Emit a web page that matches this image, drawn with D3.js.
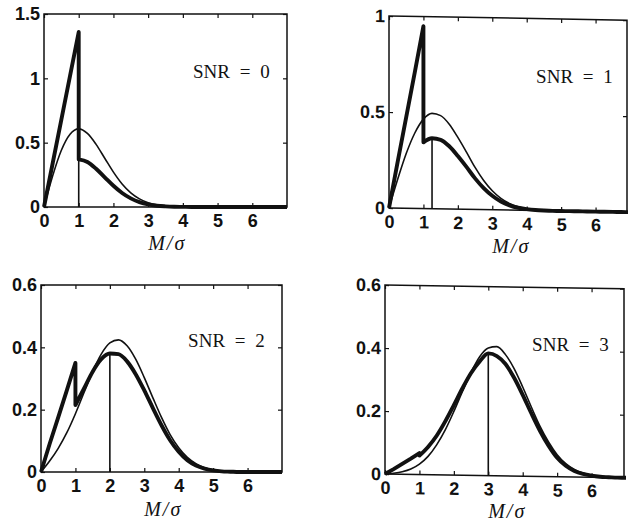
<!DOCTYPE html>
<html>
<head>
<meta charset="utf-8">
<script src="https://cdn.jsdelivr.net/npm/d3@7"></script>
<style>
  body { margin: 0; background: #fff; }
  .tick text { font-family: "Liberation Sans", Arial, sans-serif; font-weight: bold; font-size: 18px; fill: #111; }
  .tick line { stroke: #111; stroke-width: 1.2; }
</style>
</head>
<body>
<div id="chart"></div>
<script>
// ---------- data ----------
const snrLabels = ["SNR = 0", "SNR = 1", "SNR = 2", "SNR = 3"];
const yTopValues = [1.5, 1, 0.6, 0.6];
const yTickValues = [[0, 0.5, 1, 1.5], [0, 0.5, 1], [0, 0.2, 0.4, 0.6], [0, 0.2, 0.4, 0.6]];
const yTickLabels = [["0", "0.5", "1", "1.5"], ["0", "0.5", "1"], ["0", "0.2", "0.4", "0.6"], ["0", "0.2", "0.4", "0.6"]];
const xTicks = [0, 1, 2, 3, 4, 5, 6];
const markerM = [1, 1.25, 2, 3];

// M grid for the thin curves (0..7)
const gridM = [0, 0.25, 0.5, 0.75, 1, 1.25, 1.5, 1.75, 2, 2.25, 2.5, 2.75, 3, 3.25, 3.5,
  3.75, 4, 4.25, 4.5, 4.75, 5, 5.25, 5.5, 5.75, 6, 6.25, 6.5, 6.75, 7];
// M grids for the thick curves, split at the jump at M = 1
const gridLeft = [0, 0.25, 0.5, 0.75, 1];
const gridRight = [1, 1.25, 1.5, 1.75, 2, 2.25, 2.5, 2.75, 3, 3.25, 3.5, 3.75, 4, 4.25,
  4.5, 4.75, 5, 5.25, 5.5, 5.75, 6, 6.25, 6.5, 6.75, 7];

// thin curves
const thinSnr0 = [0, 0.242, 0.441, 0.566, 0.607, 0.572, 0.487, 0.379, 0.271, 0.179, 0.110, 0.063,
  0.033, 0.017, 0.008, 0.003, 0.001, 0, 0, 0, 0, 0, 0, 0, 0, 0, 0, 0, 0];
const thinSnr1 = [0, 0.149, 0.285, 0.393, 0.466, 0.497, 0.486, 0.442, 0.374, 0.298, 0.219, 0.152,
  0.099, 0.060, 0.034, 0.018, 0.009, 0.004, 0.002, 0.001, 0, 0, 0, 0, 0, 0, 0, 0, 0];
const thinSnr2 = [0, 0.035, 0.076, 0.126, 0.187, 0.255, 0.322, 0.378, 0.414, 0.424, 0.405, 0.362,
  0.303, 0.238, 0.175, 0.120, 0.078, 0.047, 0.027, 0.014, 0.007, 0.003, 0.0015, 0.0006, 0.0002, 0, 0, 0, 0];
const thinSnr3 = [0, 0.003, 0.008, 0.017, 0.033, 0.058, 0.095, 0.143, 0.202, 0.266, 0.327, 0.377,
  0.405, 0.41, 0.385, 0.341, 0.283, 0.220, 0.160, 0.110, 0.070, 0.042, 0.024, 0.013, 0.006, 0.003, 0.0013, 0.0005, 0.0002];

// thick curves, left of the jump
const thickLeftSnr0 = [0, 0.34, 0.68, 1.02, 1.36];
const thickLeftSnr1 = [0, 0.24, 0.475, 0.71, 0.95];
const thickLeftSnr2 = [0, 0.09, 0.175, 0.262, 0.35];
const thickLeftSnr3 = [0, 0.016, 0.033, 0.05, 0.068];

// thick curves, right of the jump
const thickRightSnr0 = [0.37, 0.35, 0.297, 0.231, 0.165, 0.109, 0.067, 0.038, 0.020, 0.010, 0.005,
  0.002, 0.001, 0, 0, 0, 0, 0, 0, 0, 0, 0, 0, 0, 0];
const thickRightSnr1 = [0.345, 0.367, 0.36, 0.327, 0.277, 0.221, 0.162, 0.112, 0.073, 0.044, 0.025,
  0.013, 0.007, 0.003, 0.001, 0, 0, 0, 0, 0, 0, 0, 0, 0, 0];
const thickRightSnr2 = [0.215, 0.268, 0.322, 0.362, 0.38, 0.378, 0.355, 0.314, 0.262, 0.205, 0.15,
  0.102, 0.065, 0.038, 0.021, 0.011, 0.005, 0.002, 0.001, 0, 0, 0, 0, 0, 0];
const thickRightSnr3 = [0.06, 0.088, 0.124, 0.17, 0.222, 0.276, 0.325, 0.362, 0.388, 0.38, 0.355,
  0.312, 0.258, 0.2, 0.145, 0.098, 0.06, 0.035, 0.019, 0.01, 0.005, 0.002, 0.001, 0, 0];

const thinSeries = [thinSnr0, thinSnr1, thinSnr2, thinSnr3];
const thickLeftSeries = [thickLeftSnr0, thickLeftSnr1, thickLeftSnr2, thickLeftSnr3];
const thickRightSeries = [thickRightSnr0, thickRightSnr1, thickRightSnr2, thickRightSnr3];

// ---------- layout: pixel frame of each panel (scan is slightly skewed on the right) ----------
const panels = [
  { left: 44,  right: 287, xEnd: 287, top: 14,  bottom: 207, skew: 0,   titleY: 250 },
  { left: 389, right: 627, xEnd: 630, top: 16,  bottom: 208, skew: 1.0, titleY: 253 },
  { left: 41,  right: 282, xEnd: 282, top: 285, bottom: 472, skew: 0,   titleY: 516 },
  { left: 385, right: 624, xEnd: 626, top: 285, bottom: 474, skew: 0.9, titleY: 518 }
];

const ink = "#111";

const svg = d3.select("#chart")
  .append("svg")
  .attr("width", 628)
  .attr("height", 523);

panels.forEach((p, i) => {
  // frame, ticks and curves follow the small skew of the scan; the labels stay level
  const g = svg.append("g")
    .attr("transform", `translate(${p.left},0) skewY(${p.skew}) translate(${-p.left},0)`);

  const x = d3.scaleLinear().domain([0, 7]).range([p.left, p.xEnd]);
  const y = d3.scaleLinear().domain([0, yTopValues[i]]).range([p.bottom, p.top]);

  // bottom axis with labels, inward ticks
  g.append("g")
    .attr("transform", `translate(0,${p.bottom})`)
    .call(d3.axisBottom(x).tickValues(xTicks).tickSizeInner(-4).tickSizeOuter(0)
      .tickPadding(7).tickFormat(d3.format("d")))
    .call(a => a.select(".domain").remove());

  // top axis: ticks only
  g.append("g")
    .attr("transform", `translate(0,${p.top})`)
    .call(d3.axisTop(x).tickValues(xTicks).tickSizeInner(-4).tickSizeOuter(0).tickFormat(() => ""))
    .call(a => a.select(".domain").remove());

  // left axis with labels
  g.append("g")
    .attr("transform", `translate(${p.left},0)`)
    .call(d3.axisLeft(y).tickValues(yTickValues[i]).tickSizeInner(-4).tickSizeOuter(0)
      .tickPadding(4).tickFormat((d, j) => yTickLabels[i][j]))
    .call(a => a.select(".domain").remove());

  // right axis: ticks only
  g.append("g")
    .attr("transform", `translate(${p.right},0)`)
    .call(d3.axisRight(y).tickValues(yTickValues[i]).tickSizeInner(-4).tickSizeOuter(0).tickFormat(() => ""))
    .call(a => a.select(".domain").remove());

  // frame
  g.append("rect")
    .attr("x", p.left)
    .attr("y", p.top)
    .attr("width", p.right - p.left)
    .attr("height", p.bottom - p.top)
    .attr("fill", "none")
    .attr("stroke", ink)
    .attr("stroke-width", 1.5);

  const line = d3.line()
    .x(d => x(d[0]))
    .y(d => y(d[1]))
    .curve(d3.curveMonotoneX);

  // thin curve
  const thinPts = gridM.map((m, k) => [m, thinSeries[i][k]]);
  g.append("path")
    .attr("d", line(thinPts))
    .attr("fill", "none")
    .attr("stroke", ink)
    .attr("stroke-width", 1.6);

  // marker line from the axis up to the thick curve
  const markIdx = gridRight.indexOf(markerM[i]);
  g.append("line")
    .attr("x1", x(markerM[i]))
    .attr("x2", x(markerM[i]))
    .attr("y1", y(0))
    .attr("y2", y(thickRightSeries[i][markIdx]))
    .attr("stroke", ink)
    .attr("stroke-width", 1.6);

  // thick curve: two pieces joined by the vertical jump at M = 1
  const leftPts = gridLeft.map((m, k) => [m, thickLeftSeries[i][k]]);
  const rightPts = gridRight.map((m, k) => [m, thickRightSeries[i][k]]);
  const thickD = d3.line().x(d => x(d[0])).y(d => y(d[1]))(leftPts) +
    line(rightPts).replace(/^M/, "L");
  g.append("path")
    .attr("d", thickD)
    .attr("fill", "none")
    .attr("stroke", ink)
    .attr("stroke-width", 3.9)
    .attr("stroke-linejoin", "round");

  // SNR label
  svg.append("text")
    .attr("x", x(6.5))
    .attr("y", y(0.67 * yTopValues[i]) + (x(6.5) - p.left) * Math.tan(p.skew * Math.PI / 180))
    .attr("text-anchor", "end")
    .attr("font-family", "'Liberation Serif', 'Times New Roman', serif")
    .attr("font-size", 19)
    .attr("word-spacing", 5)
    .attr("fill", ink)
    .text(snrLabels[i]);

  // x axis title M/sigma, one text run so it stays a single label
  svg.append("text")
    .attr("x", x(3.55))
    .attr("y", p.titleY)
    .attr("text-anchor", "middle")
    .attr("font-family", "'Liberation Serif', 'Times New Roman', serif")
    .attr("font-style", "italic")
    .attr("font-size", 20)
    .attr("letter-spacing", 2)
    .attr("fill", ink)
    .text("M/σ");
});
</script>
</body>
</html>
